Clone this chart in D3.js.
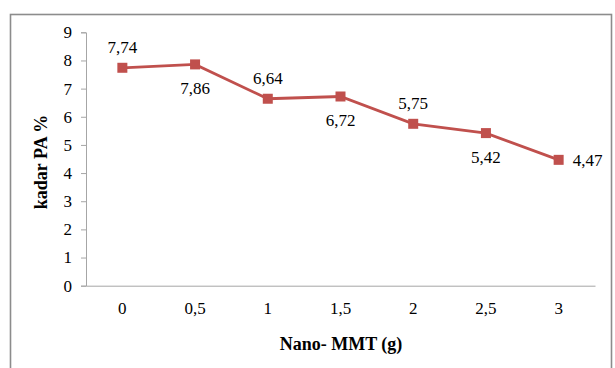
<!DOCTYPE html>
<html>
<head>
<meta charset="utf-8">
<script src="https://cdn.jsdelivr.net/npm/d3@7"></script>
<style>
  html, body { margin: 0; padding: 0; background: #fff; }
  svg { display: block; }
  svg text { font-family: "Liberation Serif", "Times New Roman", serif; fill: #000; }
</style>
</head>
<body>
<svg id="chart" width="615" height="368"></svg>
<script>
// PA content (%) versus nano-MMT loading (g)
const categories = ["0", "0,5", "1", "1,5", "2", "2,5", "3"];
const values = [7.74, 7.86, 6.64, 6.72, 5.75, 5.42, 4.47];
const valueLabels = ["7,74", "7,86", "6,64", "6,72", "5,75", "5,42", "4,47"];
// where each value label sits relative to its marker
const labelPlacement = ["above", "below", "above", "below", "above", "below", "right"];
const yTicks = [0, 1, 2, 3, 4, 5, 6, 7, 8, 9];

const svg = d3.select("#chart");
const left = 86;

// outer chart frame
svg.append("rect")
  .attr("x", 10.5).attr("y", 14.5)
  .attr("width", 601).attr("height", 360)
  .attr("fill", "none").attr("stroke", "#8c8c8c").attr("stroke-width", 1.6);

const x = d3.scaleBand()
  .domain(categories)
  .range([left, 595]);

const y = d3.scaleLinear()
  .domain([0, 9])
  .range([285.7, 32.3]);

// y axis
const yAxis = svg.append("g")
  .attr("transform", `translate(${left},0)`)
  .call(d3.axisLeft(y).tickValues(yTicks).tickSize(5).tickPadding(9).tickFormat(d3.format("d")));
yAxis.attr("font-family", null);
yAxis.selectAll("path, line").attr("stroke", "#a6a6a6");
yAxis.selectAll("text").attr("font-size", 17);

// x axis
const xAxis = svg.append("g")
  .attr("transform", `translate(0,${y(0)})`)
  .call(d3.axisBottom(x).tickSize(0).tickPadding(16));
xAxis.attr("font-family", null);
xAxis.select("path").attr("stroke", "#a6a6a6");
xAxis.selectAll("text").attr("font-size", 17);

const cx = d => x(d) + x.bandwidth() / 2;
const data = categories.map((c, i) => ({ c, v: values[i], label: valueLabels[i], pos: labelPlacement[i] }));

// series line
svg.append("path")
  .datum(data)
  .attr("fill", "none")
  .attr("stroke", "#c0504d")
  .attr("stroke-width", 2.8)
  .attr("d", d3.line().x(d => cx(d.c)).y(d => y(d.v)));

// square markers
const ms = 10;
svg.selectAll("rect.marker")
  .data(data)
  .enter().append("rect")
  .attr("class", "marker")
  .attr("x", d => cx(d.c) - ms / 2)
  .attr("y", d => y(d.v) - ms / 2)
  .attr("width", ms).attr("height", ms)
  .attr("fill", "#c0504d");

// value labels
svg.selectAll("text.val")
  .data(data)
  .enter().append("text")
  .attr("class", "val")
  .attr("font-size", 17)
  .attr("text-anchor", d => d.pos === "right" ? "start" : "middle")
  .attr("x", d => d.pos === "right" ? cx(d.c) + 14 : cx(d.c))
  .attr("y", d => {
    const py = y(d.v);
    if (d.pos === "above") return py - 15;
    if (d.pos === "below") return py + 30;
    return py + 6;
  })
  .text(d => d.label);

// axis titles
svg.append("text")
  .attr("transform", "translate(47,162) rotate(-90)")
  .attr("text-anchor", "middle")
  .attr("font-size", 18).attr("font-weight", "bold")
  .text("kadar PA %");

svg.append("text")
  .attr("x", 341).attr("y", 350)
  .attr("text-anchor", "middle")
  .attr("font-size", 18).attr("font-weight", "bold")
  .text("Nano- MMT (g)");
</script>
</body>
</html>
